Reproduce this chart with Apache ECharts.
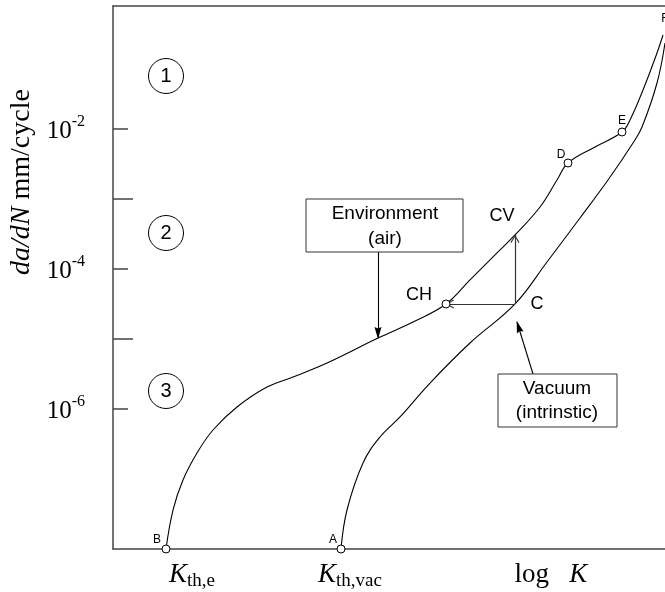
<!DOCTYPE html>
<html><head><meta charset="utf-8">
<script src="https://cdn.jsdelivr.net/npm/echarts@6/dist/echarts.min.js"></script>
<style>html,body{margin:0;padding:0;background:#fff}#c{width:665px;height:592px}</style>
</head><body><div id="c"></div>
<script>
// x: log K (arbitrary units), y: log10(da/dN, mm/cycle)
const envLogK = [0.53,0.60,0.70,0.84,1.00,1.24,1.54,1.80,2.14,2.65,3.00,3.33,3.57,3.84,4.02,4.27,4.44,4.55,4.82,5.09,5.17,5.30,5.44,5.50];
const envRate = [-8.0,-7.443,-7.014,-6.629,-6.30,-5.971,-5.686,-5.543,-5.343,-4.986,-4.757,-4.50,-4.157,-3.771,-3.514,-3.114,-2.729,-2.486,-2.257,-2.043,-1.871,-1.443,-0.914,-0.657];
const vacLogK = [2.28,2.34,2.50,2.67,2.87,3.17,3.57,4.02,4.34,4.67,4.95,5.20,5.29,5.44,5.52];
const vacRate = [-8.0,-7.443,-6.771,-6.40,-6.114,-5.629,-5.057,-4.50,-3.90,-3.271,-2.729,-2.20,-1.971,-1.343,-0.771];
const pointNames = ['B','A','CH','D','E'];
const pointLogK = [0.53,2.28,3.33,4.55,5.09];
const pointRate = [-8.0,-8.0,-4.50,-2.486,-2.043];
const cPoint = [4.02,-4.50];
const cvPoint = [4.02,-3.514];
const fPoint = [5.50,-0.657];
const stageNames = ['1','2','3'];
const stageLogK = [0.53,0.53,0.53];
const stageRate = [-1.243,-3.486,-5.743];
const envArrow = [[2.65,-3.757],[2.65,-4.986]];
const vacArrow = [[4.20,-5.50],[4.04,-4.757]];
const yMajorTicks = [-2,-4,-6];
const yMinorTicks = [-3,-5];
const xTickPos = [0.79,2.37,4.38];
const xTickText = [['K','th,e'],['K','th,vac'],['log   ','K']];

const serif = '"Liberation Serif","Times New Roman",serif';
const sans = '"Liberation Sans",Arial,sans-serif';
const axisCol = '#444';
// open chevron whose tip sits at the symbol centre (dummy point ahead keeps the bbox symmetric)
const chevron = 'path://M5,0 L5,0.01 M5,10 L10,20 L9,20.8 L5,12.6 L1,20.8 L0,20 Z';
const headFilled = 'path://M5,0 L5,0.01 M5,10 L8.5,22 L5,20.5 L1.5,22 Z';

const labelOff = {B:[-9,-9],A:[-8,-9],CH:[-27,-9],D:[-7,-8],E:[0,-11]};
const labelSize = {B:12,A:12,CH:18,D:12,E:12};

const chart = echarts.init(document.getElementById('c'), null, {renderer:'canvas'});
chart.setOption({
  animation:false,
  grid:{left:113,right:0,top:6,bottom:43,containLabel:false},
  xAxis:[{
    type:'value',min:0,max:5.52,position:'bottom',
    axisLine:{show:true,lineStyle:{color:axisCol,width:1.5}},
    axisTick:{show:false},splitLine:{show:false},
    axisLabel:{
      customValues:xTickPos,margin:12,
      formatter:function(v){
        let i=0,best=1e9;
        xTickPos.forEach((p,k)=>{if(Math.abs(p-v)<best){best=Math.abs(p-v);i=k;}});
        const t=xTickText[i];
        if(i===2) return '{n|'+t[0]+'}{k|'+t[1]+'}';
        return '{k|'+t[0]+'}{s|'+t[1]+'}';
      },
      rich:{
        k:{fontFamily:serif,fontStyle:'italic',fontSize:27,color:'#000',lineHeight:30,verticalAlign:'top'},
        n:{fontFamily:serif,fontSize:27,color:'#000',lineHeight:30,verticalAlign:'top'},
        s:{fontFamily:serif,fontSize:19,color:'#000',lineHeight:18,verticalAlign:'bottom'}
      }
    }
  },{
    type:'value',min:0,max:5.52,position:'top',
    axisLine:{show:true,lineStyle:{color:axisCol,width:1.5}},
    axisTick:{show:false},axisLabel:{show:false},splitLine:{show:false}
  }],
  yAxis:[{
    type:'value',min:-8,max:-0.243,position:'left',
    axisLine:{show:true,lineStyle:{color:axisCol,width:1.5}},
    axisTick:{show:true,inside:true,length:15,customValues:yMajorTicks,lineStyle:{color:axisCol,width:1.5}},
    splitLine:{show:false},
    axisLabel:{
      customValues:yMajorTicks,margin:28,
      formatter:function(v){return '{b|10}{s|'+v+'}';},
      rich:{
        b:{fontFamily:serif,fontSize:25,color:'#000',lineHeight:30,verticalAlign:'bottom'},
        s:{fontFamily:serif,fontSize:16,color:'#000',lineHeight:18,verticalAlign:'top'}
      }
    }
  },{
    type:'value',min:-8,max:-0.243,position:'left',
    axisLine:{show:false},
    axisTick:{show:true,inside:true,length:20,customValues:yMinorTicks,lineStyle:{color:axisCol,width:1.5}},
    axisLabel:{show:false},splitLine:{show:false}
  }],
  series:[
    {type:'line',name:'Environment',data:envLogK.map((x,i)=>[x,envRate[i]]),smooth:0.4,
     showSymbol:false,symbol:'none',lineStyle:{color:'#000',width:1.1},z:3},
    {type:'line',name:'Vacuum',data:vacLogK.map((x,i)=>[x,vacRate[i]]),smooth:0.4,
     showSymbol:false,symbol:'none',lineStyle:{color:'#000',width:1.1},z:3},
    {type:'lines',coordinateSystem:'cartesian2d',z:4,
     symbol:['none',chevron],symbolSize:[0,[9,16]],
     lineStyle:{color:'#333',width:1.2,opacity:1,curveness:0},
     data:[{coords:[cPoint,[pointLogK[2],pointRate[2]]]},{coords:[cPoint,cvPoint]}]},
    {type:'lines',coordinateSystem:'cartesian2d',z:4,
     symbol:['none',headFilled],symbolSize:[0,[7,22]],
     lineStyle:{color:'#000',width:1.1,opacity:1,curveness:0},
     data:[{coords:envArrow},{coords:vacArrow}]},
    {type:'scatter',z:6,symbol:'circle',symbolSize:8,
     itemStyle:{color:'#fff',borderColor:'#000',borderWidth:1,opacity:1},
     data:pointNames.map((n,i)=>({name:n,value:[pointLogK[i],pointRate[i]],
       label:{show:true,formatter:n,position:'inside',offset:labelOff[n],fontFamily:sans,fontSize:labelSize[n],color:'#000'}}))},
    {type:'scatter',z:6,symbolSize:0,silent:true,itemStyle:{opacity:1},
     data:[
       {name:'C',value:cPoint,label:{show:true,formatter:'C',position:'inside',offset:[22,0],fontFamily:sans,fontSize:18,color:'#000'}},
       {name:'CV',value:cvPoint,label:{show:true,formatter:'CV',position:'inside',offset:[-13,-19],fontFamily:sans,fontSize:18,color:'#000'}},
       {name:'F',value:fPoint,label:{show:true,formatter:'F',position:'inside',offset:[2,-16],fontFamily:sans,fontSize:12,color:'#000'}}
     ]},
    {type:'scatter',z:6,symbol:'circle',symbolSize:35,
     itemStyle:{color:'#fff',borderColor:'#000',borderWidth:1,opacity:1},
     data:stageNames.map((n,i)=>({name:n,value:[stageLogK[i],stageRate[i]]})),
     label:{show:true,position:'inside',formatter:'{b}',fontFamily:sans,fontSize:20,color:'#000'}}
  ],
  graphic:[
    {type:'text',x:22,y:182,rotation:Math.PI/2,z:10,
     style:{text:'{i|da/dN}{n| mm/cycle}',align:'center',verticalAlign:'middle',
       rich:{i:{fontFamily:serif,fontStyle:'italic',fontSize:28,fill:'#000'},n:{fontFamily:serif,fontSize:28,fill:'#000'}}}},
    {type:'rect',z:10,shape:{x:306,y:199,width:157,height:53},style:{fill:'#fff',stroke:'#333',lineWidth:1}},
    {type:'text',z:11,x:385,y:226,style:{text:'Environment\n(air)',align:'center',verticalAlign:'middle',lineHeight:25,fontFamily:sans,fontSize:19,fill:'#000'}},
    {type:'rect',z:10,shape:{x:498,y:374,width:119,height:53},style:{fill:'#fff',stroke:'#333',lineWidth:1}},
    {type:'text',z:11,x:557,y:401,style:{text:'Vacuum\n(intrinstic)',align:'center',verticalAlign:'middle',lineHeight:24,fontFamily:sans,fontSize:19,fill:'#000'}}
  ]
});
</script></body></html>
